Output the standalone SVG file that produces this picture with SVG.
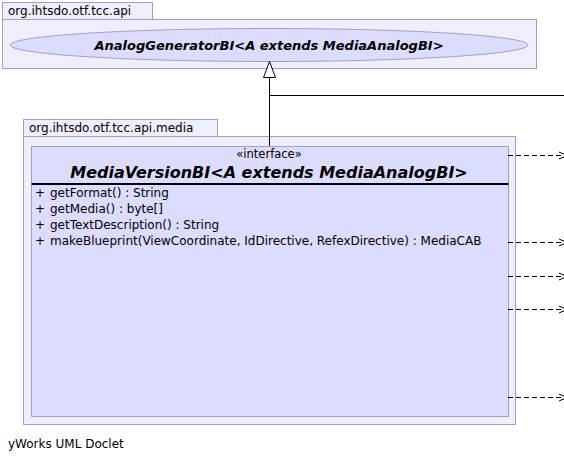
<svg xmlns="http://www.w3.org/2000/svg" width="564" height="462" viewBox="0 0 564 462">
<style>
text{font-family:"DejaVu Sans","Liberation Sans",sans-serif;fill:#000}
.pkg{fill:#EEEEFC;stroke:#A0A0B8;stroke-width:1}
.cls{fill:#DCDCFF;stroke:#A0A0B8;stroke-width:1}
.lbl{font-size:12px}
.m{font-size:12px}
.dep{stroke:#000;stroke-width:1;fill:none;stroke-dasharray:5,3}
.head{stroke:#000;stroke-width:1;fill:none}
</style>
<rect width="564" height="462" fill="#fff"/>
<g id="pkg-api">
<rect class="pkg" x="2.5" y="2.5" width="150" height="17"/>
<rect class="pkg" x="2.5" y="19.5" width="534" height="49"/>
<text class="lbl" x="8" y="15">org.ihtsdo.otf.tcc.api</text>
</g>
<g id="AnalogGeneratorBI">
<ellipse cx="269" cy="45" rx="259" ry="16.5" fill="#DCDCFF" stroke="#A0A0B8"/>
<text x="269" y="49.5" text-anchor="middle" font-size="13" font-weight="bold" font-style="italic">AnalogGeneratorBI&lt;A extends MediaAnalogBI&gt;</text>
</g>
<g id="pkg-media">
<rect class="pkg" x="23.5" y="119.5" width="194" height="17"/>
<rect class="pkg" x="23.5" y="136.5" width="492" height="288"/>
<text class="lbl" x="29" y="132">org.ihtsdo.otf.tcc.api.media</text>
</g>
<g id="MediaVersionBI">
<rect class="cls" x="31.5" y="146.5" width="477" height="270"/>
<line x1="31.5" y1="184" x2="508.5" y2="184" stroke="#000" stroke-width="2"/>
<text x="269" y="158" text-anchor="middle" font-size="11.5">«interface»</text>
<text x="269" y="178" text-anchor="middle" font-size="16" font-weight="bold" font-style="italic">MediaVersionBI&lt;A extends MediaAnalogBI&gt;</text>
<text class="m" y="197"><tspan x="35">+</tspan><tspan x="50">getFormat() : String</tspan></text>
<text class="m" y="213"><tspan x="35">+</tspan><tspan x="50">getMedia() : byte[]</tspan></text>
<text class="m" y="229"><tspan x="35">+</tspan><tspan x="50">getTextDescription() : String</tspan></text>
<text class="m" y="245"><tspan x="35">+</tspan><tspan x="50">makeBlueprint(ViewCoordinate, IdDirective, RefexDirective) : MediaCAB</tspan></text>
</g>
<g id="connectors">
<line x1="269.5" y1="77" x2="269.5" y2="146" stroke="#000"/>
<polygon points="269.5,61.5 263.5,77.5 275.5,77.5" fill="#fff" stroke="#000"/>
<line x1="269.5" y1="95.5" x2="564" y2="95.5" stroke="#000"/>
<path class="dep" d="M508 155.5H566"/>
<path class="head" d="M559 152L567 155.5L559 159"/>
<path class="dep" d="M508 242.5H566"/>
<path class="head" d="M559 239L567 242.5L559 246"/>
<path class="dep" d="M508 276.5H566"/>
<path class="head" d="M559 273L567 276.5L559 280"/>
<path class="dep" d="M508 309.5H566"/>
<path class="head" d="M559 306L567 309.5L559 313"/>
<path class="dep" d="M508 397.5H566"/>
<path class="head" d="M559 394L567 397.5L559 401"/>
</g>
<text class="lbl" x="8" y="448">yWorks UML Doclet</text>
</svg>
